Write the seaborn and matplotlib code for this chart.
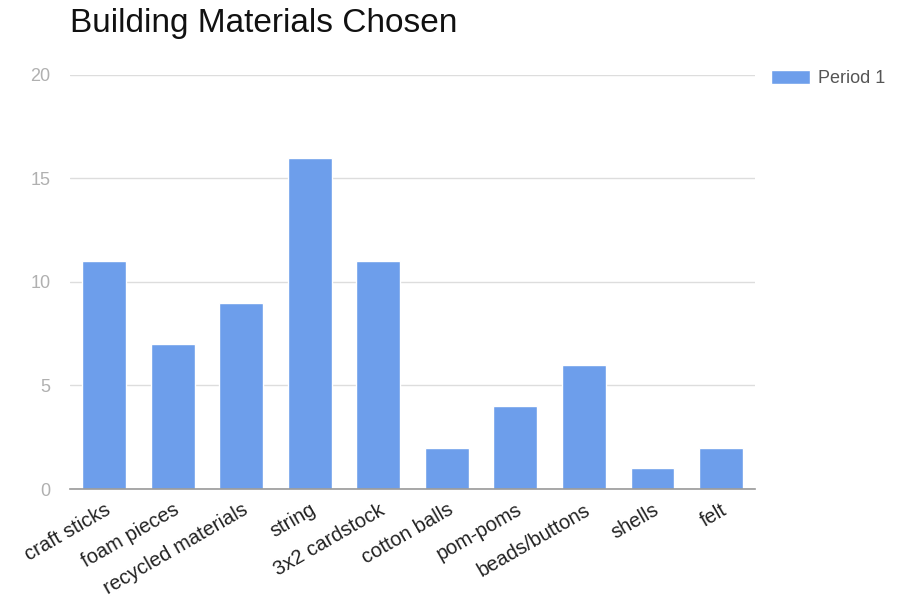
import matplotlib
matplotlib.use("Agg")
import matplotlib.pyplot as plt
import seaborn as sns
import pandas as pd

materials = ["craft sticks", "foam pieces", "recycled materials", "string",
             "3x2 cardstock", "cotton balls", "pom-poms", "beads/buttons",
             "shells", "felt"]
period_1 = [11, 7, 9, 16, 11, 2, 4, 6, 1, 2]
series_name = "Period 1"
y_ticks = [0, 5, 10, 15, 20]

df = pd.DataFrame({"material": materials, "count": period_1,
                   "series": [series_name] * len(materials)})

sns.set_theme(style="white")
plt.rcParams["font.family"] = ["Liberation Sans", "DejaVu Sans"]

fig = plt.figure(figsize=(8.98, 6.09), dpi=100)
ax = fig.add_axes([0.078, 0.197, 0.763, 0.680])

bar_color = "#6d9eeb"
sns.barplot(data=df, x="material", y="count", hue="series",
            palette=[bar_color], saturation=1, width=0.64, ax=ax, legend=True)

ax.set_ylim(0, 20)
ax.set_yticks(y_ticks)
ax.set_yticklabels([str(t) for t in y_ticks], color="#b0b0b0", fontsize=13)
ax.grid(axis="y", color="#dddddd", linewidth=1)
ax.set_axisbelow(True)
for s in ["top", "right", "left"]:
    ax.spines[s].set_visible(False)
ax.spines["bottom"].set_color("#999999")
ax.spines["bottom"].set_linewidth(1.2)
ax.tick_params(axis="y", length=0, pad=14)
ax.tick_params(axis="x", length=0, pad=8)
ax.set_xlabel("")
ax.set_ylabel("")
plt.setp(ax.get_xticklabels(), rotation=30, ha="right", rotation_mode="anchor",
         fontsize=14.5, color="#222222")
ax.set_xlim(-0.5, len(materials) - 0.5)

leg = ax.legend(loc="upper left", bbox_to_anchor=(1.012, 1.03), frameon=False,
                handlelength=2.2, handleheight=0.8, handletextpad=0.4,
                fontsize=13, borderaxespad=0)
for t in leg.get_texts():
    t.set_color("#555555")

fig.text(0.078, 0.962, "Building Materials Chosen", fontsize=24,
         color="#111111", va="center", ha="left")

fig.savefig("out.png", dpi=100)
